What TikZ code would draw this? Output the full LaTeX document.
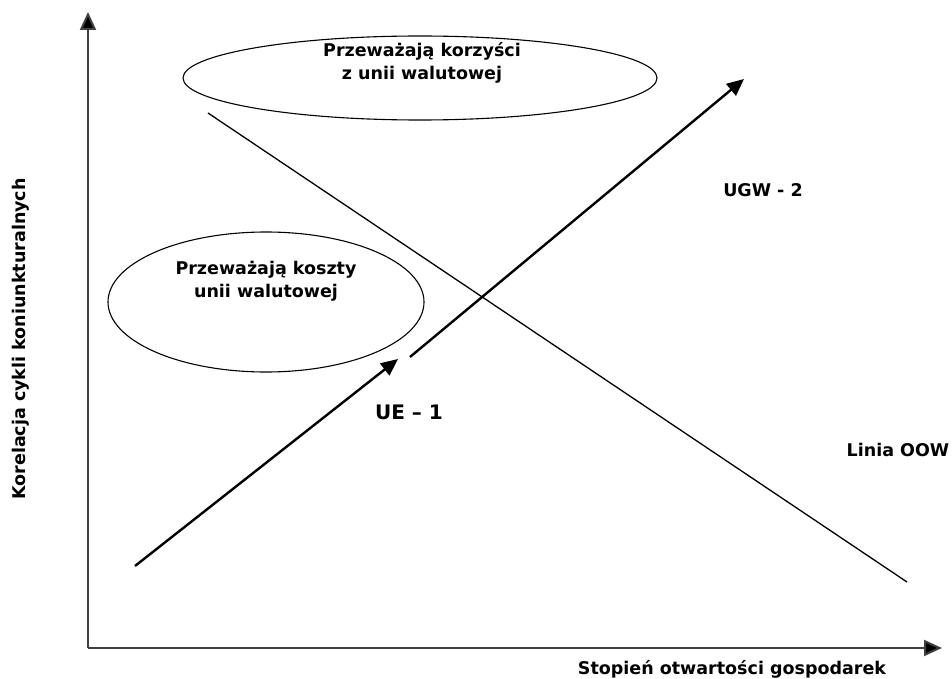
\documentclass[tikz,border=0pt]{standalone}
\usepackage{fontspec}
\setmainfont{DejaVu Sans}
\usetikzlibrary{arrows.meta,shapes.geometric}
\begin{document}
\begin{tikzpicture}[x=1pt,y=-1pt,
  axis/.style={line width=2pt,draw=black!75,-{Triangle[length=18pt,width=16pt,fill=black]}},
  trend/.style={line width=2.4pt,-{Triangle[length=17pt,width=15pt]}},
  zone/.style={ellipse,draw,line width=1.1pt,inner sep=0pt},
  lbl/.style={font=\bfseries\fontsize{17.5}{23}\selectfont,align=center,inner sep=0pt}]
\useasboundingbox (0,0) rectangle (952,679);
% axes
\coordinate (O) at (88,648);
\coordinate (ytop) at (88,12);
\coordinate (xend) at (942,648);
\draw[axis] (O) -- (ytop);
\draw[axis] (O) -- (xend);
\node[lbl,rotate=90] (ylab) at (21,339) {Korelacja cykli koniunkturalnych};
\node[lbl] (xlab) at (732,669) {Stopień otwartości gospodarek};
% regions
\node[zone,minimum width=474pt,minimum height=84pt] (benefit) at (420,78) {};
\node[lbl] (benefittxt) at (422,63) {Przeważają korzyści\\z unii walutowej};
\node[zone,minimum width=316pt,minimum height=140pt] (cost) at (266,302) {};
\node[lbl] (costtxt) at (266,281) {Przeważają koszty\\unii walutowej};
% OOW line
\coordinate (oowA) at (208,113);
\coordinate (oowB) at (907,582);
\draw[line width=1.3pt] (oowA) -- (oowB);
\node[lbl] (oow) at (898,450) {Linia OOW};
% trajectory
\coordinate (s1) at (135,566);
\coordinate (e1) at (398,359);
\coordinate (s2) at (410,357);
\coordinate (e2) at (744,79);
\draw[trend] (s1) -- (e1);
\draw[trend] (s2) -- (e2);
\node[lbl,font=\bfseries\fontsize{20}{24}\selectfont] (ue) at (409,412) {UE – 1};
\node[lbl] (ugw) at (763,190) {UGW - 2};
\end{tikzpicture}
\end{document}
